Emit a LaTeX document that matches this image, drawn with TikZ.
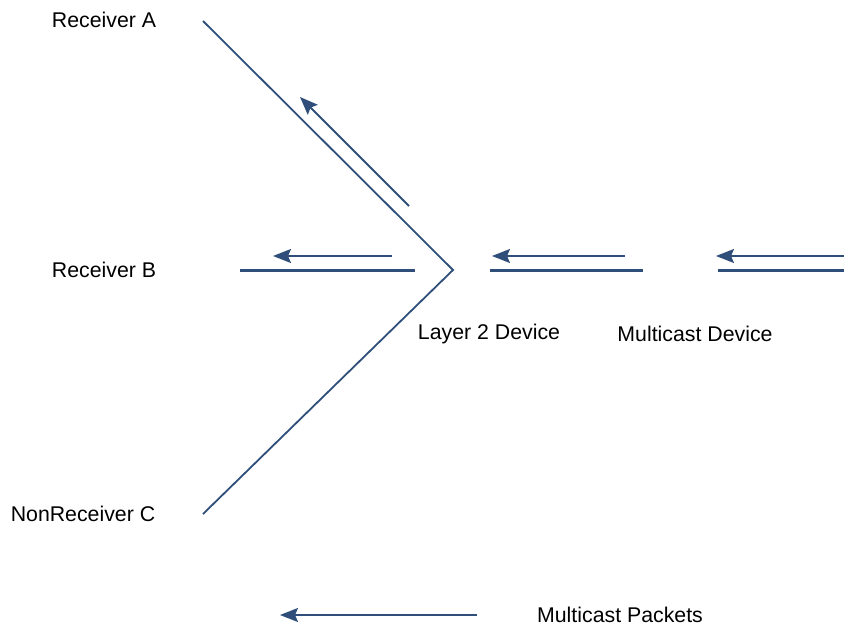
\documentclass[tikz,border=0pt]{standalone}
\usepackage{fontspec}
\setmainfont{Liberation Sans}
\usetikzlibrary{arrows.meta}
\definecolor{netblue}{RGB}{47,79,122}
\begin{document}
\begin{tikzpicture}[x=1pt,y=-1pt,
  lbl/.style={font=\fontsize{21.3}{25}\selectfont, text=black, inner sep=0pt},
  wire/.style={draw=netblue, line width=1.8pt},
  seg/.style={draw=netblue, line width=3pt},
  pkt/.style={draw=netblue, line width=1.8pt, -{Stealth[length=18pt,width=14pt,inset=3pt]}}]
\useasboundingbox (0,0) rectangle (844,626);
% coordinates
\coordinate (A) at (203,21);
\coordinate (apex) at (453,270);
\coordinate (C) at (203,514);
\coordinate (aS) at (409,206); \coordinate (aE) at (300,97);
\coordinate (b1) at (240,270); \coordinate (b2) at (415,270);
\coordinate (bS) at (392,256); \coordinate (bE) at (273,256);
\coordinate (l1) at (490,270); \coordinate (l2) at (643,270);
\coordinate (lS) at (625,256); \coordinate (lE) at (492,256);
\coordinate (m1) at (718,270); \coordinate (m2) at (844,270);
\coordinate (mS) at (844,256); \coordinate (mE) at (716,256);
\coordinate (kS) at (477,615); \coordinate (kE) at (280,615);
% labels
\node[lbl] (rA) at (104,20) {Receiver A};
\node[lbl] (rB) at (104,270) {Receiver B};
\node[lbl] (rC) at (83,514) {NonReceiver C};
\node[lbl] (l2d) at (489,334) {Layer 2 Device};
\node[lbl] (mcd) at (695,334) {Multicast Device};
\node[lbl] (mcp) at (620,615) {Multicast Packets};
% lines
\draw[wire] (A) -- (apex) -- (C);
\draw[seg] (b1) -- (b2);
\draw[seg] (l1) -- (l2);
\draw[seg] (m1) -- (m2);
% packets
\draw[pkt] (aS) -- (aE);
\draw[pkt] (bS) -- (bE);
\draw[pkt] (lS) -- (lE);
\draw[pkt] (mS) -- (mE);
\draw[pkt] (kS) -- (kE);
\end{tikzpicture}
\end{document}
